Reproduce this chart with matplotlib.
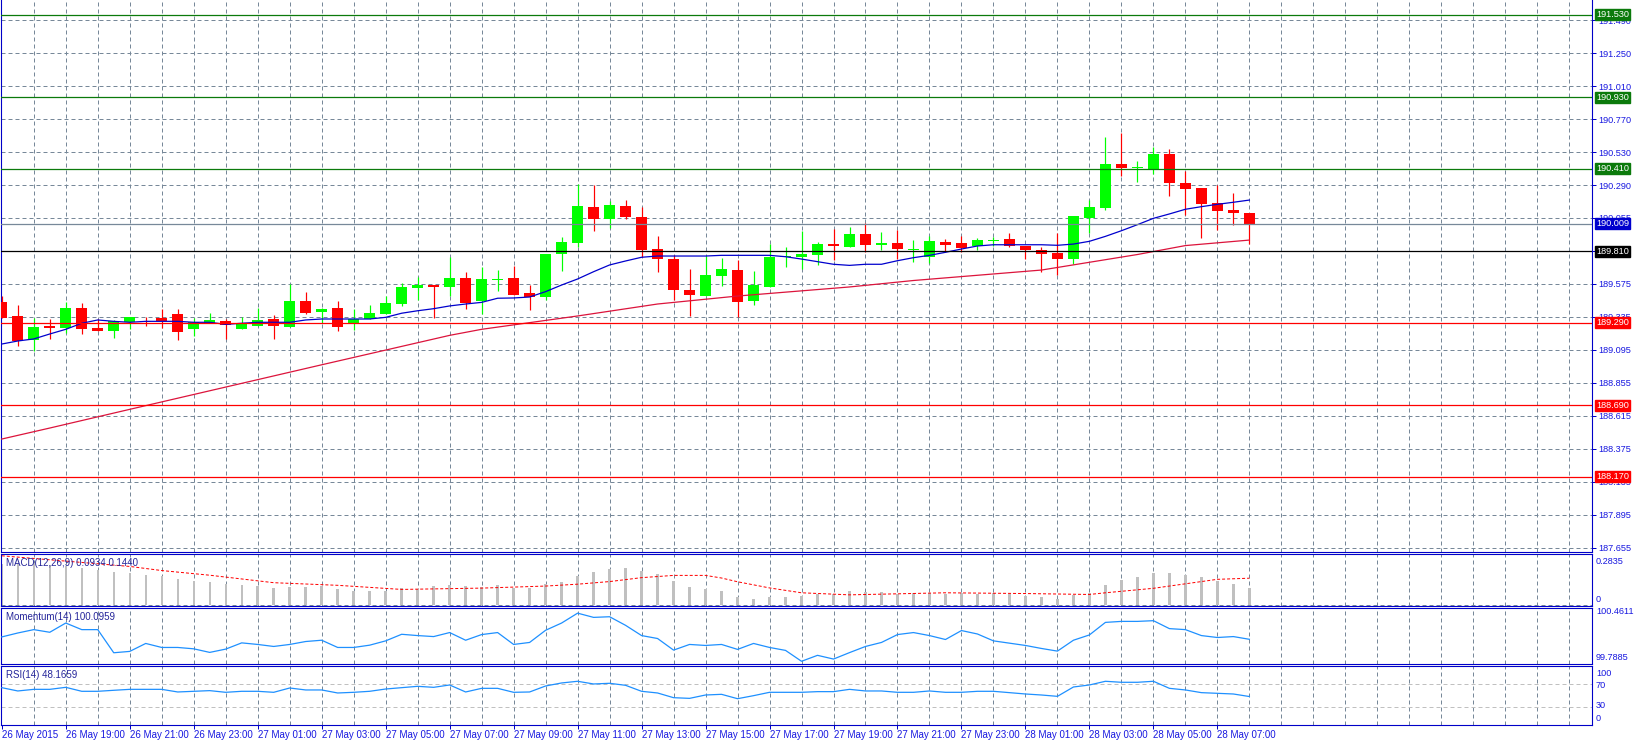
#######################################
# import libraries and useful modules #
#######################################
import matplotlib
matplotlib.use('Agg')
import matplotlib.pyplot as plt
import matplotlib.transforms as mtransforms
from matplotlib.patches import Rectangle

plt.rcParams['font.family'] = ['Liberation Sans', 'DejaVu Sans']

########
# data #
########
# GBPJPY-like M30 candles, 26 May 17:00 .. 28 May 08:00
opens = [189.443, 189.341, 189.166, 189.268, 189.254, 189.397, 189.251, 189.232, 189.293, 189.300,
         189.324, 189.353, 189.246, 189.290, 189.300, 189.244, 189.268, 189.317, 189.259, 189.448,
         189.370, 189.397, 189.290, 189.317, 189.355, 189.426, 189.545, 189.564, 189.552, 189.617,
         189.446, 189.603, 189.617, 189.506, 189.479, 189.792, 189.872, 190.132, 190.047, 190.139,
         190.059, 189.826, 189.753, 189.528, 189.486, 189.632, 189.676, 189.450, 189.552, 189.766,
         189.768, 189.785, 189.863, 189.843, 189.935, 189.858, 189.870, 189.821, 189.770, 189.877,
         189.870, 189.848, 189.884, 189.899, 189.848, 189.819, 189.799, 189.755, 190.054, 190.124,
         190.447, 190.417, 190.406, 190.517, 190.306, 190.270, 190.161, 190.112, 190.088]
highs = [189.486, 189.419, 189.326, 189.317, 189.440, 189.435, 189.315, 189.309, 189.332, 189.330,
         189.387, 189.389, 189.326, 189.360, 189.315, 189.332, 189.397, 189.346, 189.571, 189.511,
         189.397, 189.448, 189.387, 189.419, 189.484, 189.577, 189.622, 189.564, 189.770, 189.662,
         189.695, 189.673, 189.702, 189.562, 189.790, 189.914, 190.301, 190.289, 190.173, 190.180,
         190.129, 189.918, 189.785, 189.680, 189.777, 189.761, 189.746, 189.666, 189.862, 189.841,
         189.957, 189.880, 189.971, 189.988, 190.015, 189.950, 189.966, 189.892, 189.920, 189.899,
         189.920, 189.906, 189.916, 189.942, 189.848, 189.841, 189.942, 190.066, 190.182, 190.641,
         190.670, 190.466, 190.568, 190.553, 190.393, 190.270, 190.292, 190.233, 190.088]
lows = [189.324, 189.123, 189.086, 189.171, 189.213, 189.210, 189.232, 189.181, 189.244, 189.268,
        189.249, 189.164, 189.195, 189.290, 189.171, 189.244, 189.268, 189.171, 189.259, 189.355,
        189.288, 189.230, 189.240, 189.317, 189.355, 189.414, 189.455, 189.326, 189.486, 189.392,
        189.355, 189.523, 189.494, 189.384, 189.453, 189.668, 189.843, 189.960, 189.981, 190.047,
        189.770, 189.661, 189.453, 189.341, 189.486, 189.555, 189.329, 189.421, 189.552, 189.697,
        189.683, 189.707, 189.749, 189.843, 189.807, 189.819, 189.753, 189.734, 189.724, 189.807,
        189.807, 189.821, 189.848, 189.841, 189.753, 189.661, 189.637, 189.719, 189.945, 190.110,
        190.359, 190.316, 190.374, 190.211, 190.073, 189.908, 189.966, 190.003, 189.862]
closes = [189.326, 189.157, 189.259, 189.254, 189.397, 189.244, 189.232, 189.300, 189.332, 189.293,
          189.305, 189.224, 189.293, 189.310, 189.275, 189.283, 189.310, 189.268, 189.448, 189.360,
          189.390, 189.261, 189.315, 189.360, 189.433, 189.550, 189.564, 189.552, 189.617, 189.435,
          189.608, 189.608, 189.494, 189.479, 189.790, 189.877, 190.139, 190.047, 190.146, 190.061,
          189.821, 189.756, 189.530, 189.489, 189.637, 189.681, 189.443, 189.564, 189.768, 189.773,
          189.790, 189.863, 189.850, 189.935, 189.858, 189.870, 189.826, 189.826, 189.884, 189.858,
          189.836, 189.891, 189.889, 189.848, 189.821, 189.792, 189.755, 190.066, 190.132, 190.447,
          190.417, 190.422, 190.517, 190.308, 190.265, 190.156, 190.105, 190.090, 190.009]

# blue moving average, one value per candle
ma_fast = [189.135, 189.157, 189.172, 189.208, 189.242, 189.286, 189.310, 189.300, 189.293, 189.300,
           189.300, 189.300, 189.293, 189.293, 189.278, 189.286, 189.293, 189.293, 189.293, 189.310,
           189.317, 189.317, 189.317, 189.317, 189.329, 189.359, 189.377, 189.392, 189.412, 189.426,
           189.438, 189.468, 189.470, 189.477, 189.516, 189.564, 189.608, 189.661, 189.710, 189.739,
           189.766, 189.775, 189.775, 189.775, 189.775, 189.780, 189.780, 189.780, 189.780, 189.770,
           189.753, 189.734, 189.715, 189.707, 189.715, 189.715, 189.741, 189.763, 189.780, 189.802,
           189.826, 189.848, 189.857, 189.857, 189.857, 189.857, 189.853, 189.862, 189.882, 189.918,
           189.959, 190.003, 190.049, 190.081, 190.115, 190.134, 190.151, 190.166, 190.182]

# crimson moving average, read at some candles
ma_slow_idx = [0, 3, 8, 14, 20, 28, 30, 36, 41, 46, 53, 57, 65, 71, 74, 78]
ma_slow = [188.444, 188.524, 188.660, 188.822, 188.984, 189.198, 189.242, 189.339,
           189.426, 189.484, 189.550, 189.597, 189.673, 189.786, 189.851, 189.891]

# horizontal levels
levels = [191.530, 190.930, 190.410, 190.009, 189.810, 189.290, 188.690, 188.170]
level_names = ['191.530', '190.930', '190.410', '190.009', '189.810', '189.290', '188.690', '188.170']
level_colors = ['#0b7a0b', '#0b7a0b', '#0b7a0b', '#778899', '#000000', '#ff0000', '#ff0000', '#ff0000']
box_colors = ['#0b7a0b', '#0b7a0b', '#0b7a0b', '#0000cd', '#000000', '#ff0000', '#ff0000', '#ff0000']

price_ticks = [191.490, 191.250, 191.010, 190.770, 190.530, 190.290, 190.055, 189.815, 189.575,
               189.335, 189.095, 188.855, 188.615, 188.375, 188.135, 187.895, 187.655]
price_tick_labels = ['191.490', '191.250', '191.010', '190.770', '190.530', '190.290', '190.055',
                     '189.815', '189.575', '189.335', '189.095', '188.855', '188.615', '188.375',
                     '188.135', '187.895', '187.655']

# MACD(12,26,9)
macd_hist = [0.219, 0.219, 0.224, 0.213, 0.210, 0.197, 0.186, 0.176, 0.172, 0.159,
             0.154, 0.138, 0.127, 0.122, 0.111, 0.105, 0.100, 0.089, 0.095, 0.095,
             0.100, 0.084, 0.078, 0.073, 0.078, 0.089, 0.087, 0.100, 0.105, 0.100,
             0.095, 0.105, 0.091, 0.089, 0.111, 0.122, 0.154, 0.176, 0.192, 0.197,
             0.181, 0.165, 0.127, 0.095, 0.084, 0.073, 0.046, 0.035, 0.041, 0.046,
             0.051, 0.057, 0.057, 0.073, 0.071, 0.071, 0.062, 0.066, 0.066, 0.062,
             0.066, 0.062, 0.066, 0.057, 0.051, 0.044, 0.035, 0.053, 0.066, 0.105,
             0.132, 0.149, 0.170, 0.170, 0.159, 0.149, 0.127, 0.111, 0.0934]
signal_idx = [0, 8, 10, 13, 17, 21, 25, 30, 34, 36, 38, 40, 42, 44, 45, 46, 48, 50, 53,
              59, 64, 68, 69, 72, 74, 76, 78]
signal_vals = [0.264, 0.207, 0.185, 0.160, 0.120, 0.106, 0.084, 0.091, 0.102, 0.112, 0.126,
               0.147, 0.159, 0.159, 0.145, 0.125, 0.092, 0.066, 0.055, 0.066, 0.062, 0.057,
               0.066, 0.090, 0.114, 0.138, 0.144]

# Momentum(14)
momentum = [100.129, 100.184, 100.231, 100.194, 100.323, 100.231, 100.231, 99.908, 99.927, 100.038,
            99.982, 99.982, 99.963, 99.913, 99.959, 100.046, 100.024, 99.996, 100.024, 100.065,
            100.083, 99.982, 99.982, 100.014, 100.074, 100.166, 100.148, 100.134, 100.190, 100.083,
            100.162, 100.190, 100.024, 100.052, 100.222, 100.323, 100.461, 100.402, 100.411, 100.291,
            100.148, 100.107, 99.945, 100.024, 100.010, 100.024, 99.955, 100.038, 99.982, 99.941,
            99.789, 99.872, 99.820, 99.910, 99.996, 100.052, 100.162, 100.190, 100.148, 100.093,
            100.218, 100.170, 100.074, 100.042, 100.010, 99.968, 99.931, 100.083, 100.157, 100.332,
            100.346, 100.346, 100.356, 100.245, 100.231, 100.148, 100.121, 100.134, 100.0959]

# RSI(14)
rsi = [64.0, 58.1, 61.0, 61.0, 64.6, 57.5, 57.5, 59.3, 61.0, 61.0,
       61.0, 56.3, 57.5, 58.7, 55.7, 57.5, 57.5, 55.7, 63.4, 59.9,
       59.9, 54.5, 55.7, 57.5, 61.6, 64.0, 66.4, 64.6, 68.8, 56.3,
       62.8, 62.8, 55.7, 56.3, 67.0, 72.4, 75.4, 70.6, 71.8, 68.2,
       57.5, 54.5, 46.1, 44.9, 50.9, 52.1, 44.3, 49.7, 55.7, 55.7,
       55.7, 56.9, 56.9, 61.0, 58.1, 58.1, 55.7, 55.7, 58.1, 55.7,
       55.7, 57.5, 57.5, 55.1, 52.7, 50.9, 48.5, 65.2, 68.8, 75.4,
       73.6, 73.6, 75.4, 62.8, 59.9, 55.1, 53.9, 52.7, 48.17]

time_label_idx = [0, 4, 8, 12, 16, 20, 24, 28, 32, 36, 40, 44, 48, 52, 56, 60, 64, 68, 72, 76]
time_labels = ['26 May 2015', '26 May 19:00', '26 May 21:00', '26 May 23:00',
               '27 May 01:00', '27 May 03:00', '27 May 05:00', '27 May 07:00',
               '27 May 09:00', '27 May 11:00', '27 May 13:00', '27 May 15:00',
               '27 May 17:00', '27 May 19:00', '27 May 21:00', '27 May 23:00',
               '28 May 01:00', '28 May 03:00', '28 May 05:00', '28 May 07:00']

##########
# layout #
##########
W, H = 1636, 745
BLUE = '#0000c8'
LABEL = '#1818e0'
TITLE = '#25259a'
GRID = '#778899'
DASH = (0, (4, 3))
PX = 0.72  # one pixel in points

fig = plt.figure(figsize=(W / 100, H / 100), dpi=100)
fig.patch.set_facecolor('white')


def box(top, bottom, left=0.5, right=1591.5):
    return [left / W, 1 - bottom / H, (right - left) / W, (bottom - top) / H]


def ftext(x, y, s, **kw):
    fig.text(x / W, 1 - y / H, s, **kw)


ax_main = fig.add_axes(box(0, 551.5))
ax_macd = fig.add_axes(box(554, 605.5))
ax_mom = fig.add_axes(box(608, 663.5))
ax_rsi = fig.add_axes(box(666, 724.5))

n = len(closes)
for ax in [ax_main, ax_macd, ax_mom, ax_rsi]:
    ax.set_xlim(-0.08, 99.39)
    for s in ax.spines.values():
        s.set_color(BLUE)
        s.set_linewidth(0.8)
    ax.tick_params(axis='x', bottom=False, labelbottom=False)
    ax.tick_params(axis='y', left=False, labelleft=False, right=False, labelright=False)
    for k in range(2, 100, 2):
        ax.axvline(k, color=GRID, lw=PX, ls=DASH, zorder=0)
ax_main.spines['top'].set_visible(False)

##############
# main chart #
##############
ax_main.set_ylim(191.637 - 551.5 / 137.5, 191.637)
ax_main.yaxis.tick_right()
ax_main.set_yticks(price_ticks)
ax_main.set_yticklabels(price_tick_labels)
ax_main.tick_params(axis='y', right=True, labelright=True, direction='out', length=3,
                    width=PX, color=BLUE, labelcolor=LABEL, labelsize=6.6, pad=2)
for t in price_ticks:
    ax_main.axhline(t, color=GRID, lw=PX, ls=DASH, zorder=0)

for i in range(n):
    o, h, l, c = opens[i], highs[i], lows[i], closes[i]
    col = '#00ff00' if c >= o else '#ff0000'
    ax_main.vlines(i, l, h, color=col, lw=PX * 1.2, zorder=3)
    if abs(c - o) < 0.004:
        ax_main.hlines(o, i - 0.345, i + 0.345, color=col, lw=1.0, zorder=3)
    else:
        ax_main.add_patch(Rectangle((i - 0.345, min(o, c)), 0.69, abs(c - o),
                                    facecolor=col, edgecolor='none', zorder=3))

ax_main.plot(range(n), ma_fast, color='#0000cd', lw=0.9, zorder=5)
ax_main.plot(ma_slow_idx, ma_slow, color='#dc143c', lw=0.9, zorder=5)

trans = mtransforms.blended_transform_factory(ax_main.transAxes, ax_main.transData)
for v, name, lc, bc in zip(levels, level_names, level_colors, box_colors):
    ax_main.axhline(v, color=lc, lw=0.9, zorder=6)
    ax_main.text(1.0028, v, name, transform=trans, ha='left', va='center', fontsize=6.6,
                 color='white', zorder=10, clip_on=False,
                 bbox=dict(boxstyle='square,pad=0.12', fc=bc, ec=bc))

########
# MACD #
########
ax_macd.set_ylim(-0.002, 0.2735)
ax_macd.bar(range(n), macd_hist, width=0.15, color='#c0c0c0', zorder=2)
ax_macd.plot(signal_idx, signal_vals, color='#ff0000', lw=PX, ls=(0, (3, 2)), zorder=3)
ax_macd.axhline(0, color=GRID, lw=PX, ls=DASH, zorder=1)
ftext(6, 563, 'MACD(12,26,9) 0.0934 0.1440', fontsize=7, color=TITLE, va='center')
ftext(1596, 561, '0.2835', fontsize=6.6, color=LABEL, va='center')
ftext(1596, 599.5, '0', fontsize=6.6, color=LABEL, va='center')

############
# Momentum #
############
ax_mom.set_ylim(99.758, 100.533)
ax_mom.plot(range(n), momentum, color='#1e90ff', lw=0.9, zorder=3)
ftext(6, 617, 'Momentum(14) 100.0959', fontsize=7, color=TITLE, va='center')
ftext(1596, 612, '100.4611', fontsize=6.6, color=LABEL, va='center')
ftext(1596, 657.5, '99.7885', fontsize=6.6, color=LABEL, va='center')

#######
# RSI #
#######
ax_rsi.set_ylim(-1.8, 102.7)
ax_rsi.axhline(70, color='#c0c0c0', lw=PX, ls=DASH, zorder=1)
ax_rsi.axhline(30, color='#c0c0c0', lw=PX, ls=DASH, zorder=1)
ax_rsi.plot(range(n), rsi, color='#1e90ff', lw=0.9, zorder=3)
ftext(6, 675, 'RSI(14) 48.1659', fontsize=7, color=TITLE, va='center')
for lab, yy in [('100', 673.5), ('70', 685), ('30', 706), ('0', 718.5)]:
    ftext(1596, yy, lab, fontsize=6.6, color=LABEL, va='center')

ax_rsi.set_xticks(time_label_idx)
ax_rsi.set_xticklabels(time_labels, ha='left')
ax_rsi.tick_params(axis='x', bottom=True, labelbottom=True, direction='out', length=3,
                   width=PX, color=BLUE, labelcolor=LABEL, labelsize=7, pad=1)

fig.savefig('out.png', dpi=100, facecolor='white')
